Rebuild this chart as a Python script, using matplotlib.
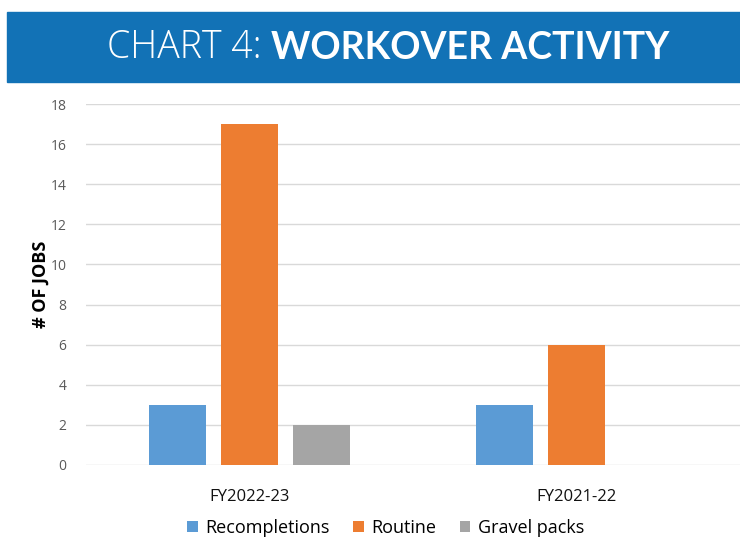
import matplotlib.pyplot as plt
import numpy as np
from matplotlib.patches import Rectangle

categories = ['FY2022-23', 'FY2021-22']
recompletions = [3, 3]
routine = [17, 6]
gravel_packs = [2, 0]
series_names = ['Recompletions', 'Routine', 'Gravel packs']
colors = ['#5B9BD5', '#ED7D31', '#A5A5A5']

W, H = 740, 541
fig = plt.figure(figsize=(W / 100, H / 100), dpi=100)

# blue title banner
fig.patches.append(Rectangle((7 / W, 1 - 82 / H), 1 - 7 / W, 70 / H,
                             transform=fig.transFigure, color='#1272B6', zorder=0))
t1 = fig.text(107 / W, 1 - 48 / H, 'CHART 4: ', color='white', fontsize=27,
              family='Open Sans', weight='light', va='center', ha='left')
fig.canvas.draw()
bb = t1.get_window_extent()
fig.text(bb.x1 / W, 1 - 48 / H, 'WORKOVER ACTIVITY', color='white', fontsize=27,
         family='Lato', weight='bold', va='center', ha='left')

ax = fig.add_axes([86 / W, 1 - 465 / H, (W - 86) / W, (465 - 104) / H])
x = np.arange(len(categories))
bw = 0.175
step = 0.22
for i, (vals, name, c) in enumerate(zip([recompletions, routine, gravel_packs], series_names, colors)):
    ax.bar(x + (i - 1) * step, vals, bw, color=c, label=name, zorder=3)

ax.set_xlim(-0.5, 1.5)
ax.set_ylim(0, 18)
ax.set_yticks(range(0, 19, 2))
ax.grid(axis='y', color='#D9D9D9', linewidth=1, zorder=0)
for s in ax.spines.values():
    s.set_visible(False)
ax.tick_params(axis='y', length=0, pad=14, labelsize=10, labelcolor='#595959')
ax.tick_params(axis='x', length=0, pad=17, labelsize=12, labelcolor='#111111')
ax.set_xticks(x)
ax.set_xticklabels(categories, family='Open Sans')
for lab in ax.get_yticklabels():
    lab.set_family('Open Sans')
ax.set_ylabel('# OF JOBS', fontsize=13, weight='bold', family='Open Sans')
ax.yaxis.set_label_coords(-0.056, 0.5)

leg = fig.legend(loc='lower center', bbox_to_anchor=(0.521, -0.022), ncol=3, frameon=False,
                 prop={'family': 'Open Sans', 'size': 13}, handlelength=0.6, handleheight=0.6,
                 handletextpad=0.4, columnspacing=1.3)

fig.savefig('out.png', dpi=100)
